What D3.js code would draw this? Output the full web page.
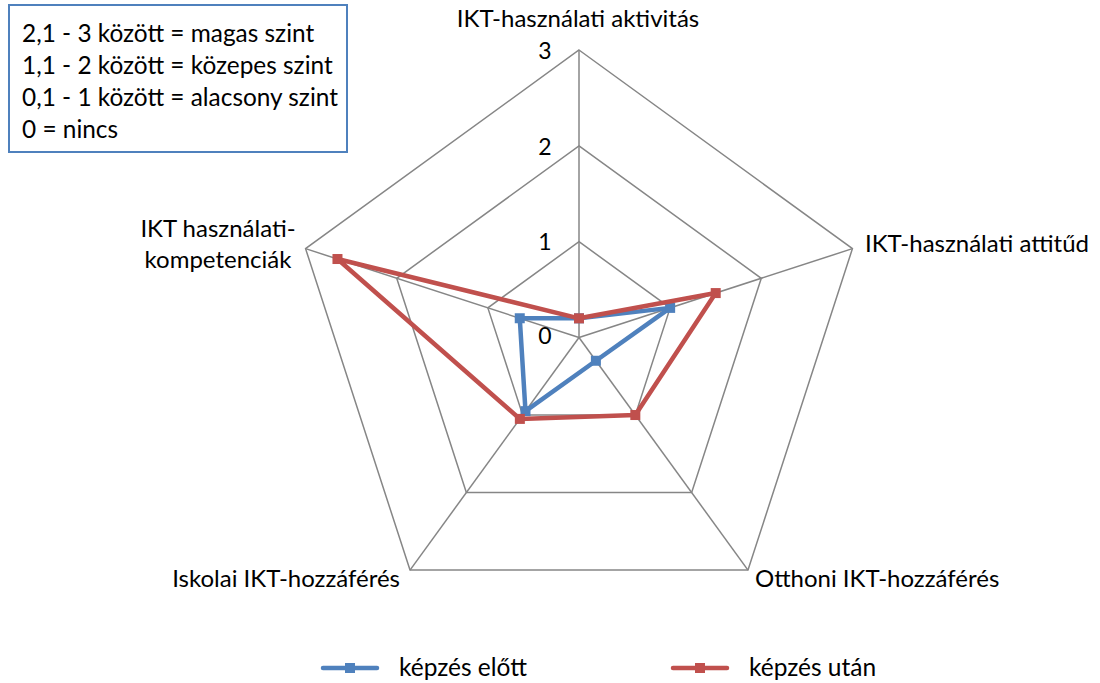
<!DOCTYPE html>
<html><head><meta charset="utf-8">
<script src="https://cdn.jsdelivr.net/npm/d3@7"></script>
<style>body{margin:0;background:#fff}svg{display:block}text{font-family:Lato,"Open Sans",sans-serif;fill:#000}</style>
</head><body>
<svg id="c" width="1100" height="683"></svg>
<script>
const axesLabels = ["IKT-használati aktivitás","IKT-használati attitűd","Otthoni IKT-hozzáférés","Iskolai IKT-hozzáférés","IKT használati-\nkompetenciák"];
const seriesNames = ["képzés előtt","képzés után"];
const beforeValues = [0.2, 1.0, 0.3, 0.95, 0.65];
const afterValues = [0.2, 1.5, 1.0, 1.05, 2.65];
const tickValues = [0,1,2,3];
const noteLines = ["2,1 - 3 között = magas szint","1,1 - 2 között = közepes szint","0,1 - 1 között = alacsony szint","0 = nincs"];
const colors = ["#4f81bd","#c0504d"];

const svg = d3.select("#c");
const cx = 579, cy = 337.5;
const r = d3.scaleLinear().domain([0,3]).range([0,287.5]);
const ang = d3.scaleLinear().domain([0, axesLabels.length]).range([0, 2*Math.PI]);
const pt = (i, v) => [cx + r(v)*Math.sin(ang(i)), cy - r(v)*Math.cos(ang(i))];

const g = svg.append("g");
tickValues.filter(t=>t>0).forEach(t=>{
  g.append("polygon").attr("points", axesLabels.map((_,i)=>pt(i,t).join(",")).join(" "))
   .attr("fill","none").attr("stroke","#868686").attr("stroke-width",1.5);
});
axesLabels.forEach((_,i)=>{
  const p = pt(i,3);
  g.append("line").attr("x1",cx).attr("y1",cy).attr("x2",p[0]).attr("y2",p[1])
   .attr("stroke","#868686").attr("stroke-width",1.5);
});
tickValues.forEach(t=>{
  g.append("text").attr("x",545).attr("y",cy - r(t)+ (t===0?1:3)).attr("text-anchor","middle")
   .attr("dominant-baseline","middle").style("font-size","23px").text(t);
});
const labelPos = [
  {x:578,y:26.5,anchor:"middle"},
  {x:865,y:251.5,anchor:"start"},
  {x:755,y:586.5,anchor:"start"},
  {x:400,y:586.5,anchor:"end"},
  {x:218,y:236.5,anchor:"middle"}
];
axesLabels.forEach((l,i)=>{
  const lp = labelPos[i];
  const t = g.append("text").attr("x",lp.x).attr("y",lp.y).attr("text-anchor",lp.anchor).style("font-size","24px");
  l.split("\n").forEach((s,k)=>t.append("tspan").attr("x",lp.x).attr("dy",k?31.8:0).text(s));
});
[beforeValues, afterValues].forEach((vals, s)=>{
  const pts = vals.map((v,i)=>pt(i,v));
  g.append("polygon").attr("points", pts.map(p=>p.join(",")).join(" "))
   .attr("fill","none").attr("stroke",colors[s]).attr("stroke-width",4.5).attr("stroke-linejoin","round");
  pts.forEach(p=>g.append("rect").attr("x",p[0]-5).attr("y",p[1]-5).attr("width",10).attr("height",10).attr("fill",colors[s]));
});
svg.append("rect").attr("x",9).attr("y",5).attr("width",338).attr("height",147)
  .attr("fill","#fff").attr("stroke","#4f81bd").attr("stroke-width",2);
noteLines.forEach((s,i)=>svg.append("text").attr("x",22).attr("y",41.7+i*32.2).style("font-size","24.4px").text(s));
const legX = [323, 673];
seriesNames.forEach((n,s)=>{
  const lg = svg.append("g");
  lg.append("line").attr("x1",legX[s]).attr("x2",legX[s]+54).attr("y1",668).attr("y2",668)
    .attr("stroke",colors[s]).attr("stroke-width",4.5).attr("stroke-linecap","round");
  lg.append("rect").attr("x",legX[s]+22).attr("y",663).attr("width",10).attr("height",10).attr("fill",colors[s]);
  lg.append("text").attr("x",legX[s]+76).attr("y",676).style("font-size","24.5px").text(n);
});
</script>
</body></html>
